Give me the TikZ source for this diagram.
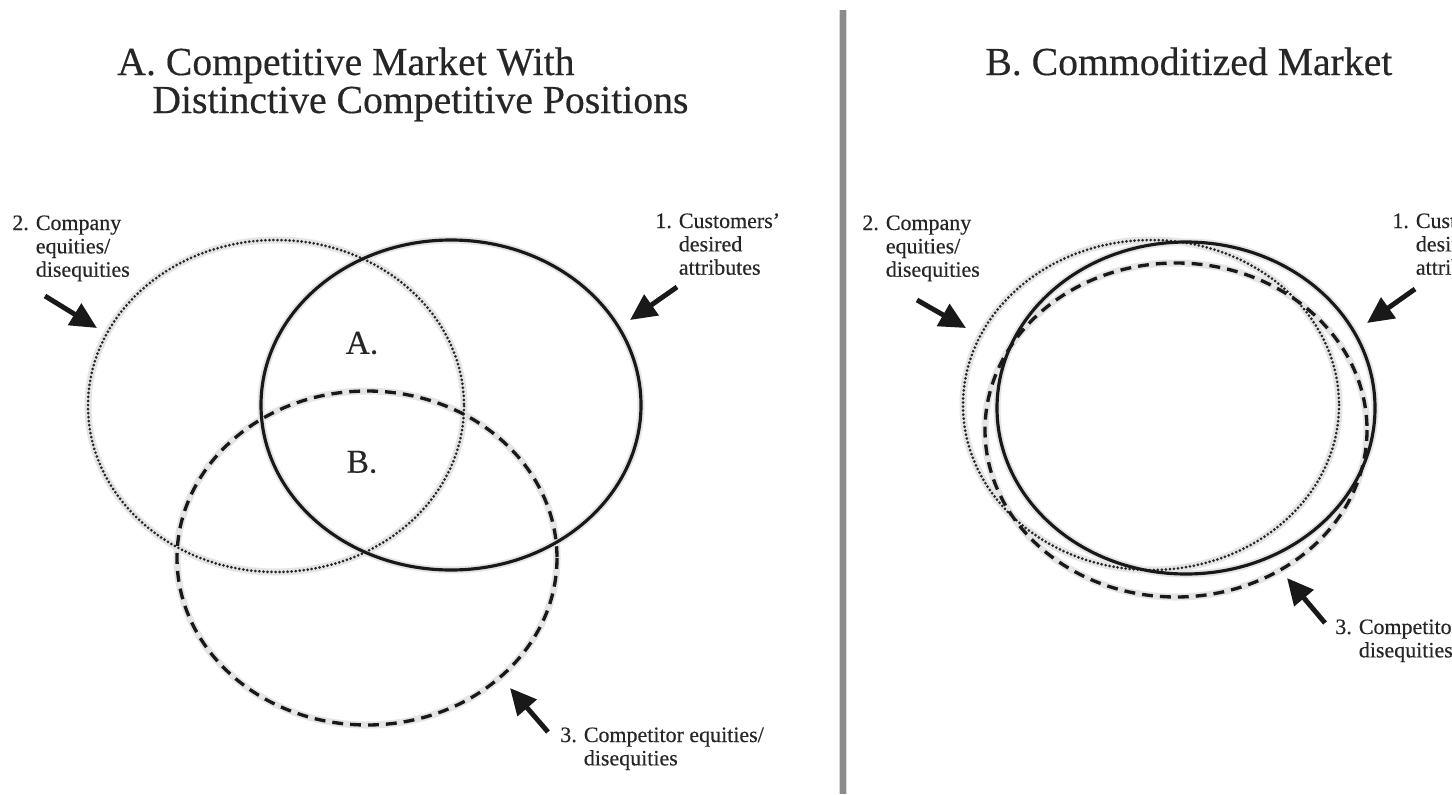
\documentclass[tikz,border=0pt]{standalone}
\usepackage{fontspec}
\setmainfont{Liberation Serif}
\newfontfamily\heavyserif[FakeBold=0.35,Ligatures=TeX]{Liberation Serif}
\usetikzlibrary{arrows.meta}
\begin{document}
\begin{tikzpicture}[x=0.02cm,y=-0.02cm,
  solidring/.style={line width=1.8pt, black!90},
  dotring/.style={line width=1.7pt, black!85, line cap=round, dash pattern=on 0pt off 2.3pt},
  dashring/.style={line width=1.9pt, black!90, dash pattern=on 6.2pt off 4pt},
  ringshadow/.style={line width=4pt, black!10},
  bigarrow/.style={line width=2.8pt, black!90, -{Triangle[length=15pt,width=14pt]}},
  lbl/.style={anchor=base west, inner sep=0pt, font=\heavyserif\fontsize{12.5}{13.3}\selectfont, text=black!85},
  ttl/.style={anchor=base west, inner sep=0pt, font=\heavyserif\fontsize{22.6}{21.5}\selectfont, text=black!85},
  zone/.style={anchor=center, inner sep=0pt, font=\heavyserif\fontsize{19}{19}\selectfont, text=black!85}
]
\useasboundingbox (0,0) rectangle (1452,794);
\clip (0,0) rectangle (1452,794);
\fill[white] (0,0) rectangle (1452,794);

% ---------- centres of the rings ----------
\coordinate (compA) at (276,406);
\coordinate (custA) at (451,405);
\coordinate (rivA)  at (367,558);
\coordinate (compB) at (1151,405);
\coordinate (custB) at (1186,408);
\coordinate (rivB)  at (1176,430);

% ---------- titles ----------
\node[ttl] (titleA1) at (117,75)  {A. Competitive Market With};
\node[ttl] (titleA2) at (152,113) {Distinctive Competitive Positions};
\node[ttl] (titleB)  at (985,75)  {B. Commoditized Market};

% ---------- divider ----------
\coordinate (divtop) at (843,10);
\coordinate (divbot) at (843,794);
\draw[line width=5pt, black!15] (divtop) -- (divbot);
\draw[line width=3pt, black!45] (divtop) -- (divbot);

% ---------- shadows ----------
\begin{scope}[shift={(3,4)}]
\draw[ringshadow] (compA) ellipse [x radius=188, y radius=166];
\draw[ringshadow] (custA) ellipse [x radius=190, y radius=165];
\draw[ringshadow] (rivA)  ellipse [x radius=190, y radius=167];
\draw[ringshadow] (compB) ellipse [x radius=188, y radius=165];
\draw[ringshadow] (custB) ellipse [x radius=189, y radius=166];
\draw[ringshadow] (rivB)  ellipse [x radius=191, y radius=167];
\end{scope}

% ---------- panel A rings ----------
\draw[dotring]   (compA) ellipse [x radius=188, y radius=166];
\draw[solidring] (custA) ellipse [x radius=190, y radius=165];
\draw[dashring]  (rivA)  ellipse [x radius=190, y radius=167];

\node[zone] (zoneA) at (362,343) {A.};
\node[zone] (zoneB) at (362,462) {B.};

% ---------- panel B rings ----------
\draw[dotring]   (compB) ellipse [x radius=188, y radius=165];
\draw[solidring] (custB) ellipse [x radius=189, y radius=166];
\draw[dashring]  (rivB)  ellipse [x radius=191, y radius=167];

% ---------- labels panel A ----------
\node[lbl] (lab2A) at (12,230) {\begin{tabular}[t]{@{}l@{\hspace{4pt}}l@{}}2. & Company\\ & equities/\\ & disequities\end{tabular}};
\node[lbl] (lab1A) at (655,228) {\begin{tabular}[t]{@{}l@{\hspace{4pt}}l@{}}1. & Customers’\\ & desired\\ & attributes\end{tabular}};
\node[lbl] (lab3A) at (560,742) {\begin{tabular}[t]{@{}l@{\hspace{4pt}}l@{}}3. & Competitor equities/\\ & disequities\end{tabular}};

% ---------- labels panel B ----------
\node[lbl] (lab2B) at (862,230) {\begin{tabular}[t]{@{}l@{\hspace{4pt}}l@{}}2. & Company\\ & equities/\\ & disequities\end{tabular}};
\node[lbl] (lab1B) at (1392,228) {\begin{tabular}[t]{@{}l@{\hspace{4pt}}l@{}}1. & Customers’\\ & desired\\ & attributes\end{tabular}};
\node[lbl] (lab3B) at (1335,634) {\begin{tabular}[t]{@{}l@{\hspace{4pt}}l@{}}3. & Competitor equities/\\ & disequities\end{tabular}};

% ---------- arrows ----------
\coordinate (a2At) at (45,296);   \coordinate (a2Ah) at (97,328);
\coordinate (a1At) at (677,287);  \coordinate (a1Ah) at (630,320);
\coordinate (a3At) at (548,732);  \coordinate (a3Ah) at (510,688);
\coordinate (a2Bt) at (917,300);  \coordinate (a2Bh) at (966,328);
\coordinate (a1Bt) at (1415,289); \coordinate (a1Bh) at (1367,323);
\coordinate (a3Bt) at (1325,623); \coordinate (a3Bh) at (1287,578);
\draw[bigarrow] (a2At) -- (a2Ah);
\draw[bigarrow] (a1At) -- (a1Ah);
\draw[bigarrow] (a3At) -- (a3Ah);
\draw[bigarrow] (a2Bt) -- (a2Bh);
\draw[bigarrow] (a1Bt) -- (a1Bh);
\draw[bigarrow] (a3Bt) -- (a3Bh);
\end{tikzpicture}
\end{document}
